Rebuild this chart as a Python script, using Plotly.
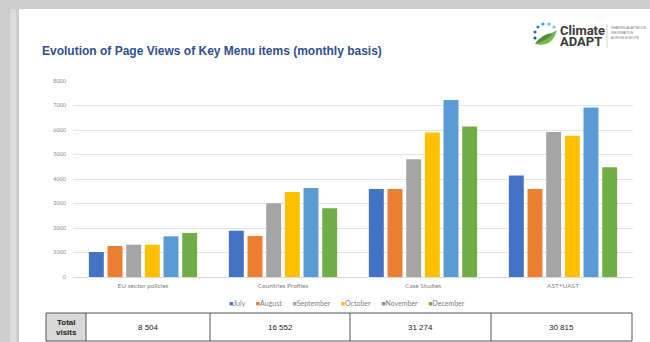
import plotly.graph_objects as go

categories = ["EU sector policies", "Countries Profiles", "Case Studies", "AST+UAST"]
months = ["July", "August", "September", "October", "November", "December"]
colors = ["#4472C4", "#ED7D31", "#A5A5A5", "#FFC000", "#5B9BD5", "#70AD47"]
july = [1020, 1890, 3590, 4140]
august = [1265, 1675, 3590, 3590]
september = [1320, 3010, 4805, 5920]
october = [1320, 3470, 5895, 5770]
november = [1660, 3635, 7225, 6915]
december = [1800, 2805, 6140, 4480]
series = [july, august, september, october, november, december]
total_visits = ["8 504", "16 552", "31 274", "30 815"]
y_ticks = [0, 1000, 2000, 3000, 4000, 5000, 6000, 7000, 8000]

W, H = 650, 342
L, R, T, B = 73, 17, 81, 65
PW, PH = W - L - R, H - T - B


def px(x):
    return (x - L) / PW


def py(y):
    return (H - B - y) / PH


fig = go.Figure()
for name, vals, col in zip(months, series, colors):
    fig.add_trace(go.Bar(x=categories, y=vals, name=name, marker_color=col,
                         marker_line_width=0, showlegend=False))

shapes = []
annotations = []

# slide background
shapes.append(dict(type="rect", xref="paper", yref="paper", x0=px(19), x1=px(652),
                   y0=py(344), y1=py(9), fillcolor="white", line_width=0, layer="below"))
shapes.append(dict(type="rect", xref="paper", yref="paper", x0=px(10), x1=px(16),
                   y0=py(344), y1=py(9), fillcolor="#dcdcdc", line_width=0, layer="below"))

# title
annotations.append(dict(xref="paper", yref="paper", x=px(40), y=py(51), xanchor="left",
                        yanchor="middle", showarrow=False,
                        text="<b>Evolution of Page Views of Key Menu items (monthly basis)</b>",
                        font=dict(family="Liberation Sans, Arial", size=12, color="#2f4f8f")))

# legend (manual, compact)
parts = []
for name, col in zip(months, colors):
    parts.append('<span style="color:%s">\u25A0</span>%s' % (col, name))
legend_text = ("\u00a0" * 6).join(parts)
annotations.append(dict(xref="paper", yref="paper", x=px(347), y=py(303), xanchor="center",
                        yanchor="middle", showarrow=False, text=legend_text,
                        font=dict(family="Lato, Open Sans", size=7, color="#7f7f7f")))

# table
tx = [46, 86, 210, 350, 491, 632]
ty0, ty1 = 313, 341
shapes.append(dict(type="rect", xref="paper", yref="paper", x0=px(tx[0]), x1=px(tx[1]),
                   y0=py(ty1), y1=py(ty0), fillcolor="#d9d9d9", line_width=0))
shapes.append(dict(type="rect", xref="paper", yref="paper", x0=px(tx[0]), x1=px(tx[-1]),
                   y0=py(ty1), y1=py(ty0), line=dict(color="#555555", width=1)))
for xv in tx[1:-1]:
    shapes.append(dict(type="line", xref="paper", yref="paper", x0=px(xv), x1=px(xv),
                       y0=py(ty1), y1=py(ty0), line=dict(color="#555555", width=1)))
annotations.append(dict(xref="paper", yref="paper", x=px((tx[0] + tx[1]) / 2), y=py(327),
                        xanchor="center", yanchor="middle", showarrow=False,
                        text="<b>Total<br>visits</b>",
                        font=dict(family="Liberation Sans, Arial", size=8, color="#222222")))
for i, v in enumerate(total_visits):
    annotations.append(dict(xref="paper", yref="paper", x=px((tx[i + 1] + tx[i + 2]) / 2),
                            y=py(327), xanchor="center", yanchor="middle", showarrow=False,
                            text=v, font=dict(family="Liberation Sans, Arial", size=8,
                                              color="#222222")))

# logo
shapes.append(dict(type="path", xref="paper", yref="paper",
                   path="M %f,%f Q %f,%f %f,%f Q %f,%f %f,%f Z" % (
                       px(535), py(44), px(552), py(48), px(557), py(30),
                       px(550), py(34), px(535), py(44)),
                   fillcolor="#7ab648", line_width=0))
shapes.append(dict(type="path", xref="paper", yref="paper",
                   path="M %f,%f Q %f,%f %f,%f Q %f,%f %f,%f Z" % (
                       px(535), py(44), px(541), py(34), px(553), py(33),
                       px(548), py(40), px(535), py(44)),
                   fillcolor="#4c8c3c", line_width=0))
dots = [(535, 38, "#1a4f8f"), (535, 32, "#1f6fb0"), (538, 27, "#2a86c8"),
        (543, 24, "#3aa0dc"), (549, 24, "#56b4e6"), (554, 27, "#78c6ee")]
for (dx, dy, dc) in dots:
    shapes.append(dict(type="circle", xref="paper", yref="paper", x0=px(dx - 1.6),
                       x1=px(dx + 1.6), y0=py(dy + 1.6), y1=py(dy - 1.6),
                       fillcolor=dc, line_width=0))
annotations.append(dict(xref="paper", yref="paper", x=px(558), y=py(30), xanchor="left",
                        yanchor="middle", showarrow=False, text="<b>Climate</b>",
                        font=dict(family="Roboto", size=13, color="#3a3a3a")))
annotations.append(dict(xref="paper", yref="paper", x=px(558), y=py(41.5), xanchor="left",
                        yanchor="middle", showarrow=False, text="<b>ADAPT</b>",
                        font=dict(family="Roboto", size=13, color="#3a3a3a")))
shapes.append(dict(type="line", xref="paper", yref="paper", x0=px(607), x1=px(607),
                   y0=py(48), y1=py(24), line=dict(color="#bbbbbb", width=0.7)))
for i, t in enumerate(["SHARING ADAPTATION", "INFORMATION", "ACROSS EUROPE"]):
    annotations.append(dict(xref="paper", yref="paper", x=px(609), y=py(28 + 5 * i),
                            xanchor="left", yanchor="middle", showarrow=False, text=t,
                            font=dict(family="Liberation Sans", size=3.2, color="#777777")))

fig.update_layout(
    width=W, height=H,
    margin=dict(l=L, r=R, t=T, b=B, pad=0),
    paper_bgcolor="#cdcdcd",
    plot_bgcolor="white",
    barmode="group",
    bargap=0.2,
    bargroupgap=0.2,
    showlegend=False,
    shapes=shapes,
    annotations=annotations,
    xaxis=dict(showgrid=False, showline=False, ticks="", zeroline=False,
               ticklabelstandoff=3,
               tickfont=dict(family="Lato, Open Sans", size=6.5, color="#7f7f7f")),
    yaxis=dict(range=[0, 8000], tickvals=y_ticks, showgrid=True, gridcolor="#e4e4e4",
               gridwidth=1, zeroline=True, zerolinecolor="#d9d9d9", zerolinewidth=1,
               showline=False, ticks="", ticklabelstandoff=6,
               tickfont=dict(family="Lato, Open Sans", size=5.5, color="#8c8c8c")),
)

fig.write_html("out.html", config={"displayModeBar": False},
               post_script="document.body.style.margin='0';document.body.style.overflow='hidden';")
